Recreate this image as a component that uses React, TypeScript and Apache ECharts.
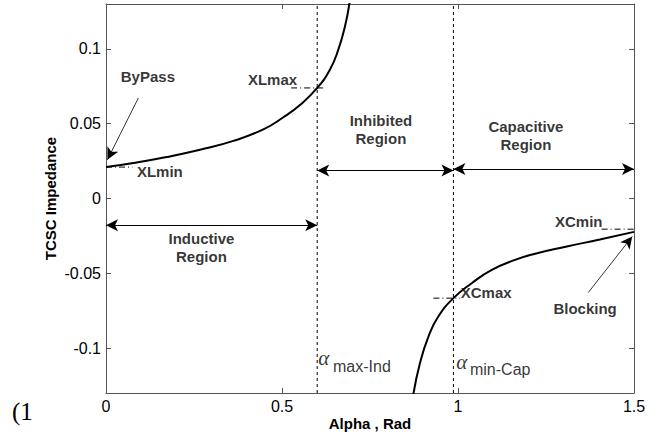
import React, { useEffect, useRef } from "react";
import * as echarts from "echarts";

// Inductive branch (alpha in rad, impedance)
const inductiveAlpha = [0, 0.078, 0.172, 0.267, 0.362, 0.447, 0.504, 0.551, 0.6, 0.636, 0.66, 0.679, 0.692];
const inductiveX = [0.021, 0.0237, 0.0277, 0.0326, 0.0385, 0.0462, 0.0543, 0.0625, 0.0739, 0.0861, 0.0995, 0.1151, 0.131];

// Capacitive branch
const capacitiveAlpha = [0.873, 0.892, 0.916, 0.944, 0.987, 1.039, 1.096, 1.162, 1.214, 1.309, 1.403, 1.5];
const capacitiveX = [-0.131, -0.11, -0.0923, -0.0789, -0.0666, -0.0566, -0.0477, -0.041, -0.0372, -0.0321, -0.0274, -0.0223];

// Boundary angles
const alphaMaxInd = 0.6;
const alphaMinCap = 0.987;

// Axis ticks
const xTicks = [0, 0.5, 1, 1.5];
const yTicks = [-0.1, -0.05, 0, 0.05, 0.1];

// Dash-dot reference marks: [x1, x2, y]
const refMarks = [
  [0, 0.075, 0.021],
  [0.526, 0.622, 0.0739],
  [0.93, 1.006, -0.0666],
  [1.408, 1.5, -0.0205],
];

// Double arrows: [x1, x2, y]
const regionArrows = [
  [0, 0.6, -0.0178],
  [0.6, 0.987, 0.0187],
  [0.987, 1.5, 0.0197],
];

// Single arrows: [xFrom, yFrom, xTo, yTo]
const pointerArrows = [
  [0.092, 0.0672, 0.004, 0.0259],
  [1.37, -0.0629, 1.495, -0.0254],
];

// Bold annotation labels
const boldLabels = [
  { name: "ByPass", value: [0.119, 0.0814] },
  { name: "XLmin", value: [0.153, 0.0182] },
  { name: "XLmax", value: [0.473, 0.0797] },
  { name: "Inhibited\nRegion", value: [0.781, 0.046] },
  { name: "Capacitive\nRegion", value: [1.193, 0.0424] },
  { name: "Inductive\nRegion", value: [0.271, -0.033] },
  { name: "XCmin", value: [1.343, -0.0153] },
  { name: "XCmax", value: [1.08, -0.0628] },
  { name: "Blocking", value: [1.361, -0.0738] },
];

const alphaLabels = [
  { name: "α", value: [0.619, -0.1066] },
  { name: "α", value: [1.011, -0.109] },
];
const subLabels = [
  { name: "max-Ind", value: [0.645, -0.112] },
  { name: "min-Cap", value: [1.034, -0.114] },
];

const X_MIN = 0;
const X_MAX = 1.5;
const Y_MIN = -0.13;
const Y_MAX = 0.13;

const FONT = "'Liberation Sans', Arial, sans-serif";

export default function App() {
  const ref = useRef<HTMLDivElement>(null);
  useEffect(() => {
    if (!ref.current) return;
    const chart = echarts.init(ref.current, undefined, { renderer: "svg" });

    const lineSeries = (data: number[][], type: any, width: number, z = 2) => ({
      type: "line",
      data,
      showSymbol: false,
      symbol: "none",
      silent: true,
      z,
      lineStyle: { color: "#000", width, type },
    });

    const curve = (alphas: number[], values: number[]) => ({
      type: "line",
      data: alphas.map((a, i) => [a, values[i]]),
      smooth: 0.5,
      showSymbol: false,
      symbol: "none",
      clip: true,
      z: 5,
      lineStyle: { color: "#000", width: 2 },
    });

    const series: any[] = [];
    series.push(curve(inductiveAlpha, inductiveX));
    series.push(curve(capacitiveAlpha, capacitiveX));
    [alphaMaxInd, alphaMinCap].forEach((a) => {
      series.push(lineSeries([[a, Y_MIN], [a, Y_MAX]], [3, 3], 1));
    });
    refMarks.forEach(([x1, x2, y]) => {
      series.push(lineSeries([[x1, y], [x2, y]], [6, 3, 1, 3], 1));
    });

    series.push({
      type: "line",
      data: [],
      silent: true,
      markLine: {
        silent: true,
        animation: false,
        label: { show: false },
        lineStyle: { color: "#000", width: 1.2, type: "solid" },
        symbol: ["arrow", "arrow"],
        symbolSize: [9, 12],
        data: regionArrows.map(([x1, x2, y]) => [
          { coord: [x1, y] },
          { coord: [x2, y] },
        ]),
      },
    });
    series.push({
      type: "line",
      data: [],
      silent: true,
      markLine: {
        silent: true,
        animation: false,
        label: { show: false },
        lineStyle: { color: "#000", width: 0.8, type: "solid" },
        symbol: ["none", "arrow"],
        symbolSize: [9, 12],
        data: pointerArrows.map(([x1, y1, x2, y2]) => [
          { coord: [x1, y1] },
          { coord: [x2, y2] },
        ]),
      },
    });

    series.push({
      type: "scatter",
      data: boldLabels,
      symbolSize: 0,
      silent: true,
      z: 10,
      label: {
        show: true,
        position: "inside",
        formatter: (p: any) => p.name,
        color: "#000",
        fontFamily: FONT,
        fontWeight: "bold",
        fontSize: 15,
        lineHeight: 18,
        align: "center",
        verticalAlign: "middle",
      },
    });
    series.push({
      type: "scatter",
      data: alphaLabels,
      symbolSize: 0,
      silent: true,
      z: 10,
      label: {
        show: true,
        position: "inside",
        formatter: (p: any) => p.name,
        color: "#000",
        fontFamily: "'Liberation Serif', 'DejaVu Serif', serif",
        fontStyle: "italic",
        fontSize: 21,
        align: "center",
        verticalAlign: "middle",
      },
    });
    series.push({
      type: "scatter",
      data: subLabels,
      symbolSize: 0,
      silent: true,
      z: 10,
      label: {
        show: true,
        position: "inside",
        formatter: (p: any) => p.name,
        color: "#000",
        fontFamily: FONT,
        fontSize: 16,
        align: "left",
        verticalAlign: "middle",
      },
    });

    const axisCommon = {
      type: "value",
      axisLine: { show: true, onZero: false, lineStyle: { color: "#555", width: 1 } },
      splitLine: { show: false },
    };

    chart.setOption({
      animation: false,
      backgroundColor: "#fff",
      grid: {
        left: 106,
        right: 23,
        top: 4,
        bottom: 43,
        containLabel: false,
        outerBoundsMode: "none",
      },
      xAxis: [
        {
          ...axisCommon,
          position: "bottom",
          min: X_MIN,
          max: X_MAX,
          interval: 0.5,
          name: "Alpha , Rad",
          nameLocation: "middle",
          nameGap: 23,
          nameMoveOverlap: false,
          nameTextStyle: { color: "#000", fontFamily: FONT, fontWeight: "bold", fontSize: 15 },
          axisTick: { show: true, inside: true, length: 5, lineStyle: { color: "#555" }, customValues: xTicks },
          axisLabel: {
            show: true,
            margin: 5,
            color: "#000",
            fontFamily: FONT,
            fontSize: 16,
            customValues: xTicks,
            formatter: (v: number) => String(v),
            showMinLabel: true,
            showMaxLabel: true,
          },
        },
        {
          ...axisCommon,
          position: "top",
          min: X_MIN,
          max: X_MAX,
          interval: 0.5,
          axisTick: { show: true, inside: true, length: 5, lineStyle: { color: "#555" }, customValues: xTicks },
          axisLabel: { show: false },
        },
      ],
      yAxis: [
        {
          ...axisCommon,
          position: "left",
          min: Y_MIN,
          max: Y_MAX,
          name: "TCSC Impedance",
          nameLocation: "middle",
          nameGap: 48,
          nameRotate: 90,
          nameMoveOverlap: false,
          nameTextStyle: { color: "#000", fontFamily: FONT, fontWeight: "bold", fontSize: 15 },
          axisTick: { show: true, inside: true, length: 5, lineStyle: { color: "#555" }, customValues: yTicks },
          axisLabel: {
            show: true,
            margin: 5,
            color: "#000",
            fontFamily: FONT,
            fontSize: 16,
            customValues: yTicks,
            formatter: (v: number) => String(v),
          },
        },
        {
          ...axisCommon,
          position: "right",
          min: Y_MIN,
          max: Y_MAX,
          axisTick: { show: true, inside: true, length: 5, lineStyle: { color: "#555" }, customValues: yTicks },
          axisLabel: { show: false },
        },
      ],
      graphic: [
        {
          type: "text",
          left: 12,
          top: 399,
          style: {
            text: "(1",
            fill: "#000",
            font: "25px 'Liberation Serif', 'Times New Roman', serif",
          },
        },
      ],
      series,
    });

    return () => chart.dispose();
  }, []);

  return (
    <div
      ref={ref}
      style={{ position: "fixed", left: 0, top: 0, width: 657, height: 436, background: "#fff" }}
    />
  );
}
